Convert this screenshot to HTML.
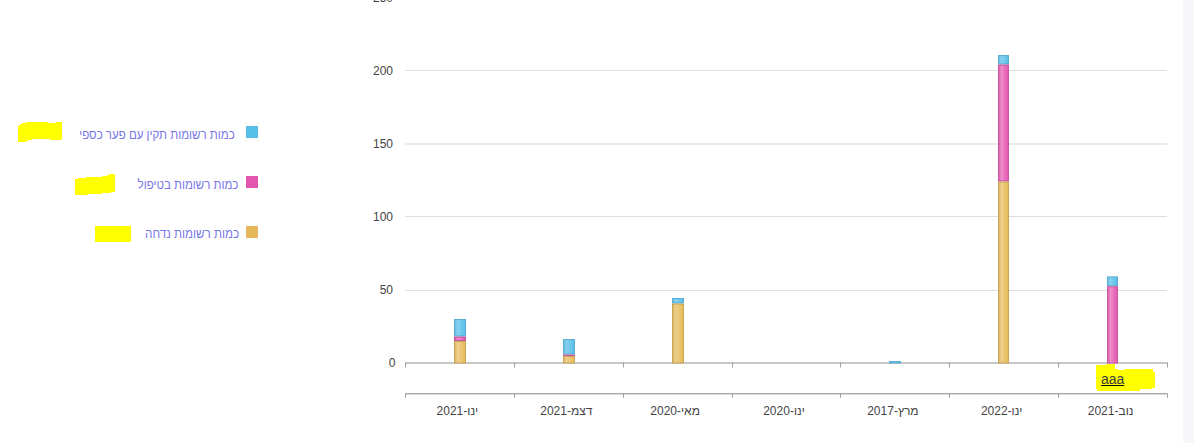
<!DOCTYPE html>
<html><head><meta charset="utf-8"><style>
html,body{margin:0;padding:0;background:#fff;}
body{width:1194px;height:443px;position:relative;overflow:hidden;font-family:"Liberation Sans",sans-serif;}
.strip{position:absolute;left:1183px;top:0;width:11px;height:443px;background:#f7f7f9;}
svg{position:absolute;left:0;top:0;}
.yl{position:absolute;width:53px;text-align:right;font-size:12px;line-height:14px;color:#444;}
.xl{position:absolute;top:404px;width:80px;text-align:center;font-size:12px;line-height:14px;color:#444;white-space:nowrap;}
.lg{position:absolute;font-size:11.5px;line-height:13px;color:#7676e6;white-space:nowrap;transform:scaleY(1.1);transform-origin:50% 0;}
.sq{position:absolute;left:246px;width:12px;height:12px;}
.aaa{position:absolute;left:1101px;top:370.5px;font-size:14px;line-height:16px;color:#3a3a3a;text-decoration:underline;text-decoration-color:#111;}
</style></head><body>
<div class="strip"></div>
<svg width="1194" height="443" viewBox="0 0 1194 443">
<defs>
<linearGradient id="gy" x1="0" x2="1" y1="0" y2="0"><stop offset="0" stop-color="#dcb35c"/><stop offset="0.3" stop-color="#edd08c"/><stop offset="1" stop-color="#e7ba55"/></linearGradient>
<linearGradient id="gp" x1="0" x2="1" y1="0" y2="0"><stop offset="0" stop-color="#de5caa"/><stop offset="0.3" stop-color="#ee8bc9"/><stop offset="1" stop-color="#e454b0"/></linearGradient>
<linearGradient id="gb" x1="0" x2="1" y1="0" y2="0"><stop offset="0" stop-color="#62bde3"/><stop offset="0.3" stop-color="#86d0ee"/><stop offset="1" stop-color="#58bee7"/></linearGradient>
</defs>
<rect x="405" y="290" width="762" height="1" fill="#dfdfdf"/>
<rect x="405" y="216" width="762" height="1" fill="#dfdfdf"/>
<rect x="405" y="143.5" width="762" height="1" fill="#d8d8d8"/>
<rect x="405" y="70" width="762" height="1" fill="#dfdfdf"/>
<rect x="405" y="362.3" width="762" height="1.4" fill="#b0b0b0"/>
<rect x="405" y="393" width="762" height="1.4" fill="#a8a8a8"/>
<rect x="405" y="362.5" width="1" height="5" fill="#a0a0a0"/>
<rect x="405" y="393.5" width="1" height="4.3" fill="#a0a0a0"/>
<rect x="514" y="362.5" width="1" height="5" fill="#a0a0a0"/>
<rect x="514" y="393.5" width="1" height="4.3" fill="#a0a0a0"/>
<rect x="623" y="362.5" width="1" height="5" fill="#a0a0a0"/>
<rect x="623" y="393.5" width="1" height="4.3" fill="#a0a0a0"/>
<rect x="732" y="362.5" width="1" height="5" fill="#a0a0a0"/>
<rect x="732" y="393.5" width="1" height="4.3" fill="#a0a0a0"/>
<rect x="840" y="362.5" width="1" height="5" fill="#a0a0a0"/>
<rect x="840" y="393.5" width="1" height="4.3" fill="#a0a0a0"/>
<rect x="949" y="362.5" width="1" height="5" fill="#a0a0a0"/>
<rect x="949" y="393.5" width="1" height="4.3" fill="#a0a0a0"/>
<rect x="1058" y="362.5" width="1" height="5" fill="#a0a0a0"/>
<rect x="1058" y="393.5" width="1" height="4.3" fill="#a0a0a0"/>
<rect x="1167" y="362.5" width="1" height="5" fill="#a0a0a0"/>
<rect x="1167" y="393.5" width="1" height="4.3" fill="#a0a0a0"/>
<rect x="454.5" y="319.50" width="11" height="16.50" fill="url(#gb)" stroke="#4ba5cf" stroke-width="1" stroke-opacity="0.85"/>
<rect x="454.5" y="337.00" width="11" height="3.50" fill="url(#gp)" stroke="#c0489a" stroke-width="1" stroke-opacity="0.85"/>
<rect x="454.5" y="341.50" width="11" height="21.50" fill="url(#gy)" stroke="#c39c4c" stroke-width="1" stroke-opacity="0.85"/>
<rect x="563.5" y="339.50" width="11" height="14.50" fill="url(#gb)" stroke="#4ba5cf" stroke-width="1" stroke-opacity="0.85"/>
<rect x="563.5" y="355.00" width="11" height="0.50" fill="url(#gp)" stroke="#c0489a" stroke-width="1" stroke-opacity="0.85"/>
<rect x="563.5" y="356.50" width="11" height="6.50" fill="url(#gy)" stroke="#c39c4c" stroke-width="1" stroke-opacity="0.85"/>
<rect x="672.5" y="298.50" width="11" height="4.50" fill="url(#gb)" stroke="#4ba5cf" stroke-width="1" stroke-opacity="0.85"/>
<rect x="672.5" y="304.00" width="11" height="59.00" fill="url(#gy)" stroke="#c39c4c" stroke-width="1" stroke-opacity="0.85"/>
<rect x="889.5" y="361.50" width="11" height="1.50" fill="url(#gb)" stroke="#4ba5cf" stroke-width="1" stroke-opacity="0.85"/>
<rect x="998.5" y="55.50" width="10" height="8.50" fill="url(#gb)" stroke="#4ba5cf" stroke-width="1" stroke-opacity="0.85"/>
<rect x="998.5" y="65.00" width="10" height="116.00" fill="url(#gp)" stroke="#c0489a" stroke-width="1" stroke-opacity="0.85"/>
<rect x="998.5" y="182.00" width="10" height="181.00" fill="url(#gy)" stroke="#c39c4c" stroke-width="1" stroke-opacity="0.85"/>
<rect x="1107.5" y="276.90" width="10" height="8.80" fill="url(#gb)" stroke="#4ba5cf" stroke-width="1" stroke-opacity="0.85"/>
<rect x="1107.5" y="286.70" width="10" height="76.30" fill="url(#gp)" stroke="#c0489a" stroke-width="1" stroke-opacity="0.85"/>
<polygon points="18,126 20,124 23,123 28,122 48,122 48,123 56,123 56,122 62,122 62,139 61,139 61,140 50,140 50,139 32,139 32,140 28,140 28,141 26,141 26,142 18,142" fill="#ffff00" shape-rendering="crispEdges"/>
<polygon points="75,179 78,179 78,178 86,178 86,177 102,177 102,176 107,176 107,175 109,175 109,174 115,174 115,192 111,192 111,193 102,193 102,194 88,194 88,195 75,195" fill="#ffff00" shape-rendering="crispEdges"/>
<polygon points="95,226 131,226 131,242 95,242" fill="#ffff00" shape-rendering="crispEdges"/>
<polygon points="1096,365 1106,365 1106,364 1115,364 1115,369 1118,369 1118,370 1125,370 1125,369 1153,369 1153,372 1155,372 1155,388 1152,388 1152,389 1140,389 1140,391 1097,391 1097,389 1096,389" fill="#ffff00" shape-rendering="crispEdges"/>
</svg>
<div class="yl" style="top:356px;left:342.5px">0</div>
<div class="yl" style="top:282.75px;left:340px">50</div>
<div class="yl" style="top:209.5px;left:340px">100</div>
<div class="yl" style="top:137px;left:340px">150</div>
<div class="yl" style="top:64px;left:340px">200</div>
<div class="yl" style="top:-9px;left:340px">250</div>
<div class="xl" style="left:417.4px" dir="rtl">ינו-2021</div>
<div class="xl" style="left:526.3px" dir="rtl">דצמ-2021</div>
<div class="xl" style="left:635.1px" dir="rtl">מאי-2020</div>
<div class="xl" style="left:744.0px" dir="rtl">ינו-2020</div>
<div class="xl" style="left:852.9px" dir="rtl">מרץ-2017</div>
<div class="xl" style="left:961.7px" dir="rtl">ינו-2022</div>
<div class="xl" style="left:1070.6px" dir="rtl">נוב-2021</div>
<div class="sq" style="top:126px;background:#56bfe6"></div>
<div class="sq" style="top:176px;background:#e356ad"></div>
<div class="sq" style="top:225.5px;background:#e5b75a"></div>
<div class="lg" dir="rtl" style="right:959.3px;top:127.8px">כמות רשומות תקין עם פער כספי</div>
<div class="lg" dir="rtl" style="right:955.6px;top:178.2px">כמות רשומות בטיפול</div>
<div class="lg" dir="rtl" style="right:954.8px;top:226.3px;font-size:11.65px">כמות רשומות נדחה</div>
<div class="aaa">aaa</div>
</body></html>
